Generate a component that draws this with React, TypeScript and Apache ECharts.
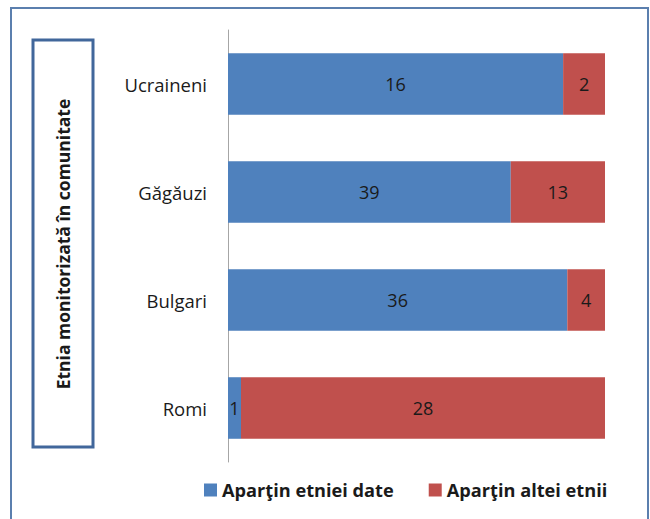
import React, { useEffect, useRef } from "react";
import * as echarts from "echarts";

const categories = ["Romi", "Bulgari", "Găgăuzi", "Ucraineni"];
const sameEthnicity = [1, 36, 39, 16];
const otherEthnicity = [28, 4, 13, 2];
const seriesNames = ["Aparţin etniei date", "Aparţin altei etnii"];
const axisTitle = "Etnia monitorizată în comunitate";

export default function App() {
  const ref = useRef<HTMLDivElement>(null);
  useEffect(() => {
    if (!ref.current) return;
    const chart = echarts.init(ref.current, null, { renderer: "svg" });
    const totals = categories.map((_, i) => sameEthnicity[i] + otherEthnicity[i]);
    const pct = (arr: number[]) =>
      arr.map((v, i) => ({ value: (v / totals[i]) * 100, raw: v }));
    const font = "'Open Sans', sans-serif";
    const labelCfg = {
      show: true,
      position: "inside" as const,
      color: "#1a1a1a",
      fontSize: 18,
      fontFamily: font,
      formatter: (p: any) => String(p.data.raw),
    };
    chart.setOption({
      animation: false,
      backgroundColor: "#ffffff",
      grid: { left: 228, right: 45, top: 30, bottom: 57, containLabel: false },
      xAxis: {
        type: "value",
        min: 0,
        max: 100,
        show: false,
      },
      yAxis: {
        type: "category",
        data: categories,
        axisLine: { show: true, lineStyle: { color: "#a6a6a6", width: 1 } },
        axisTick: { show: false },
        axisLabel: {
          color: "#1a1a1a",
          fontSize: 18.5,
          fontFamily: font,
          margin: 21,
        },
      },
      legend: {
        bottom: 15,
        left: 199,
        itemWidth: 13,
        itemHeight: 13,
        itemGap: 35,
        icon: "rect",
        textStyle: {
          fontSize: 18.2,
          fontWeight: "bold",
          color: "#1a1a1a",
          fontFamily: font,
        },
        data: seriesNames,
      },
      series: [
        {
          name: seriesNames[0],
          type: "bar",
          stack: "total",
          barWidth: "57%",
          itemStyle: { color: "#4f81bd" },
          label: labelCfg,
          data: pct(sameEthnicity),
        },
        {
          name: seriesNames[1],
          type: "bar",
          stack: "total",
          barWidth: "57%",
          itemStyle: { color: "#c0504d" },
          label: labelCfg,
          data: pct(otherEthnicity),
        },
      ],
      graphic: [
        {
          type: "rect",
          shape: { x: 11, y: 8, width: 637, height: 530 },
          style: { fill: "none", stroke: "#5b7fae", lineWidth: 2 },
          silent: true,
        },
        {
          type: "rect",
          shape: { x: 33, y: 40, width: 60, height: 407 },
          style: { fill: "none", stroke: "#41679b", lineWidth: 3 },
          silent: true,
        },
        {
          type: "text",
          x: 63,
          y: 244,
          rotation: Math.PI / 2,
          style: {
            text: axisTitle,
            fontSize: 17.5,
            fontWeight: "bold",
            fontFamily: font,
            fill: "#1a1a1a",
            align: "center",
            verticalAlign: "middle",
          },
          silent: true,
        },
      ],
    });
    return () => chart.dispose();
  }, []);
  return <div ref={ref} style={{ width: 650, height: 519, position: "absolute", left: 0, top: 0 }} />;
}
